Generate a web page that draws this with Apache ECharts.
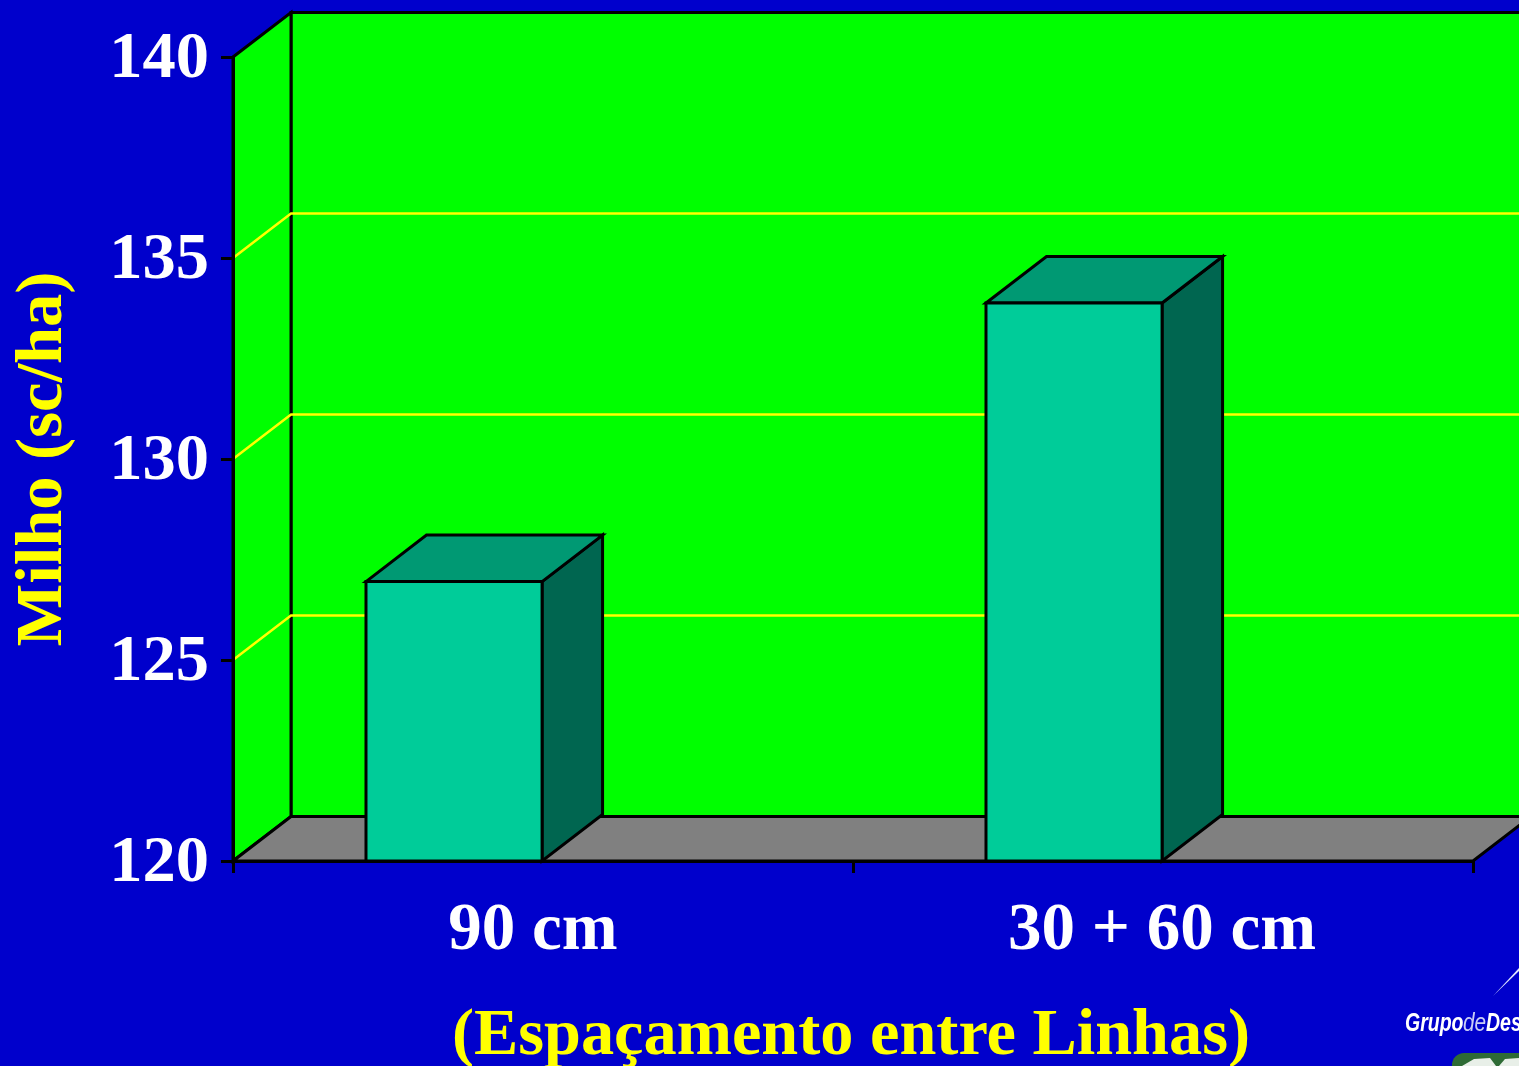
<!DOCTYPE html>
<html><head><meta charset="utf-8">
<style>html,body{margin:0;padding:0;background:#0000CC;overflow:hidden}#c{width:1519px;height:1066px}</style>
<script src="https://cdn.jsdelivr.net/npm/echarts@6/dist/echarts.min.js"></script>
</head><body><div id="c"></div>
<script>
const categories = ['90 cm', '30 + 60 cm'];
const milho = [126.95, 133.88];
const gridValues = [125, 130, 135];
const yMin = 120, yMax = 140, yStep = 5;
const yTitle = 'Milho (sc/ha)';
const xTitle = '(Espaçamento entre Linhas)';

const FONT = '"Liberation Serif","Times New Roman",serif';
const WALL = '#00FF00', FLOOR = '#808080', BG = '#0000CC', YEL = '#FFFF00';
const FRONT = '#00CC99', TOP = '#009973', SIDE = '#006650';
const DX = 58, DY = -44.5, BDX = 60.5, BDY = -46.5, LW = 3;
const line = {stroke:'#000', lineWidth:LW, lineJoin:'miter'};
const poly = (pts, fill, st) => ({type:'polygon', shape:{points:pts}, style:Object.assign({fill}, st||line)});

const chart = echarts.init(document.getElementById('c'), null, {renderer:'canvas'});
chart.setOption({
  animation:false,
  backgroundColor:BG,
  textStyle:{fontFamily:FONT},
  grid:{left:233, right:46, top:57, bottom:205, containLabel:false, outerBoundsMode:'none'},
  xAxis:{type:'category', data:[
      {value:categories[0], textStyle:{padding:[0,20,0,0]}},
      {value:categories[1], textStyle:{padding:[0,2,0,0]}}],
    z:5,
    boundaryGap:true,
    axisLine:{lineStyle:{color:'#000',width:LW}},
    axisTick:{show:true,alignWithLabel:false,length:12,lineStyle:{color:'#000',width:LW}},
    axisLabel:{color:'#fff',fontSize:67,fontWeight:'bold',fontFamily:FONT,margin:37},
    name:xTitle,nameLocation:'middle',nameGap:143,
    nameTextStyle:{color:YEL,fontSize:66.3,fontWeight:'bold',fontFamily:FONT,padding:[0,4,0,0]}
  },
  yAxis:{type:'value',min:yMin,max:yMax,interval:yStep,z:5,
    axisLine:{show:true,lineStyle:{color:'#000',width:LW}},
    axisTick:{show:true,length:12,lineStyle:{color:'#000',width:LW}},
    splitLine:{show:false},
    axisLabel:{color:'#fff',fontSize:66.5,fontWeight:'bold',fontFamily:FONT,margin:24,
      formatter:'{t|{value}}',
      rich:{t:{color:'#fff',fontSize:66.5,fontWeight:'bold',fontFamily:FONT,padding:[6,0,0,0]}}},
    name:yTitle,nameLocation:'middle',nameGap:156,nameRotate:90,
    nameTextStyle:{color:YEL,fontSize:66.5,fontWeight:'bold',fontFamily:FONT}
  },
  series:[
    {type:'custom',z:2,silent:true,data:[[0,yMin]],
      renderItem(p){
        const c=p.coordSys,l=c.x,r=c.x+c.width,t=c.y,b=c.y+c.height;
        return {type:'group',children:[
          poly([[l+DX,t+DY],[r+DX,t+DY],[r+DX,b+DY],[l+DX,b+DY]],WALL),
          poly([[l,t],[l+DX,t+DY],[l+DX,b+DY],[l,b]],WALL),
          poly([[l,b],[l+DX,b+DY],[r+DX,b+DY],[r,b]],FLOOR)
        ]};
      }},
    {type:'custom',z:3,silent:true,data:gridValues.map(v=>[0,v]),encode:{x:0,y:1},
      renderItem(p,api){
        const c=p.coordSys,y=api.coord([0,api.value(1)])[1],l=c.x,r=c.x+c.width;
        return {type:'polyline',shape:{points:[[l,y],[l+DX,y+DY],[r+DX,y+DY]]},
          style:{stroke:YEL,lineWidth:2.5,fill:null}};
      }},
    {type:'custom',z:4,silent:true,data:milho.map((v,i)=>[i,v]),encode:{x:0,y:1},
      renderItem(p,api){
        const top=api.coord([api.value(0),api.value(1)]),base=api.coord([api.value(0),yMin]);
        const band=api.size([1,0])[0],w=band*0.284,cx=top[0]-band*0.1435;
        const l=cx-w/2,r=cx+w/2,t=top[1],b=base[1];
        return {type:'group',children:[
          poly([[r,t],[r+BDX,t+BDY],[r+BDX,b+BDY],[r,b]],SIDE),
          poly([[l,t],[l+BDX,t+BDY],[r+BDX,t+BDY],[r,t]],TOP),
          poly([[l,t],[r,t],[r,b],[l,b]],FRONT)
        ]};
      }}
  ],
  graphic:[
    {type:'polygon',z:10,silent:true,shape:{points:[[1493,996],[1519,968],[1519,971]]},style:{fill:'#dfe4ff'}},
    {type:'text',z:10,silent:true,x:1405,y:1011,scaleX:0.75,style:{text:'Grupo',fill:'#fff',font:'italic bold 26px "Liberation Sans"'}},
    {type:'text',z:10,silent:true,x:1463,y:1011,scaleX:0.8,style:{text:'de',fill:'#c9ccf5',font:'italic 26px "Liberation Sans"'}},
    {type:'text',z:10,silent:true,x:1486,y:1011,scaleX:0.75,style:{text:'Des',fill:'#fff',font:'italic bold 26px "Liberation Sans"'}},
    {type:'rect',z:10,silent:true,shape:{x:1452,y:1053,width:90,height:30,r:12},style:{fill:'#2E6B35'}},
    {type:'polygon',z:11,silent:true,shape:{points:[[1462,1066],[1474,1059],[1490,1058],[1496,1066]]},style:{fill:'#e8efe8'}},
    {type:'polygon',z:11,silent:true,shape:{points:[[1499,1066],[1505,1059],[1519,1058],[1519,1066]]},style:{fill:'#e8efe8'}}
  ]
});
</script></body></html>
